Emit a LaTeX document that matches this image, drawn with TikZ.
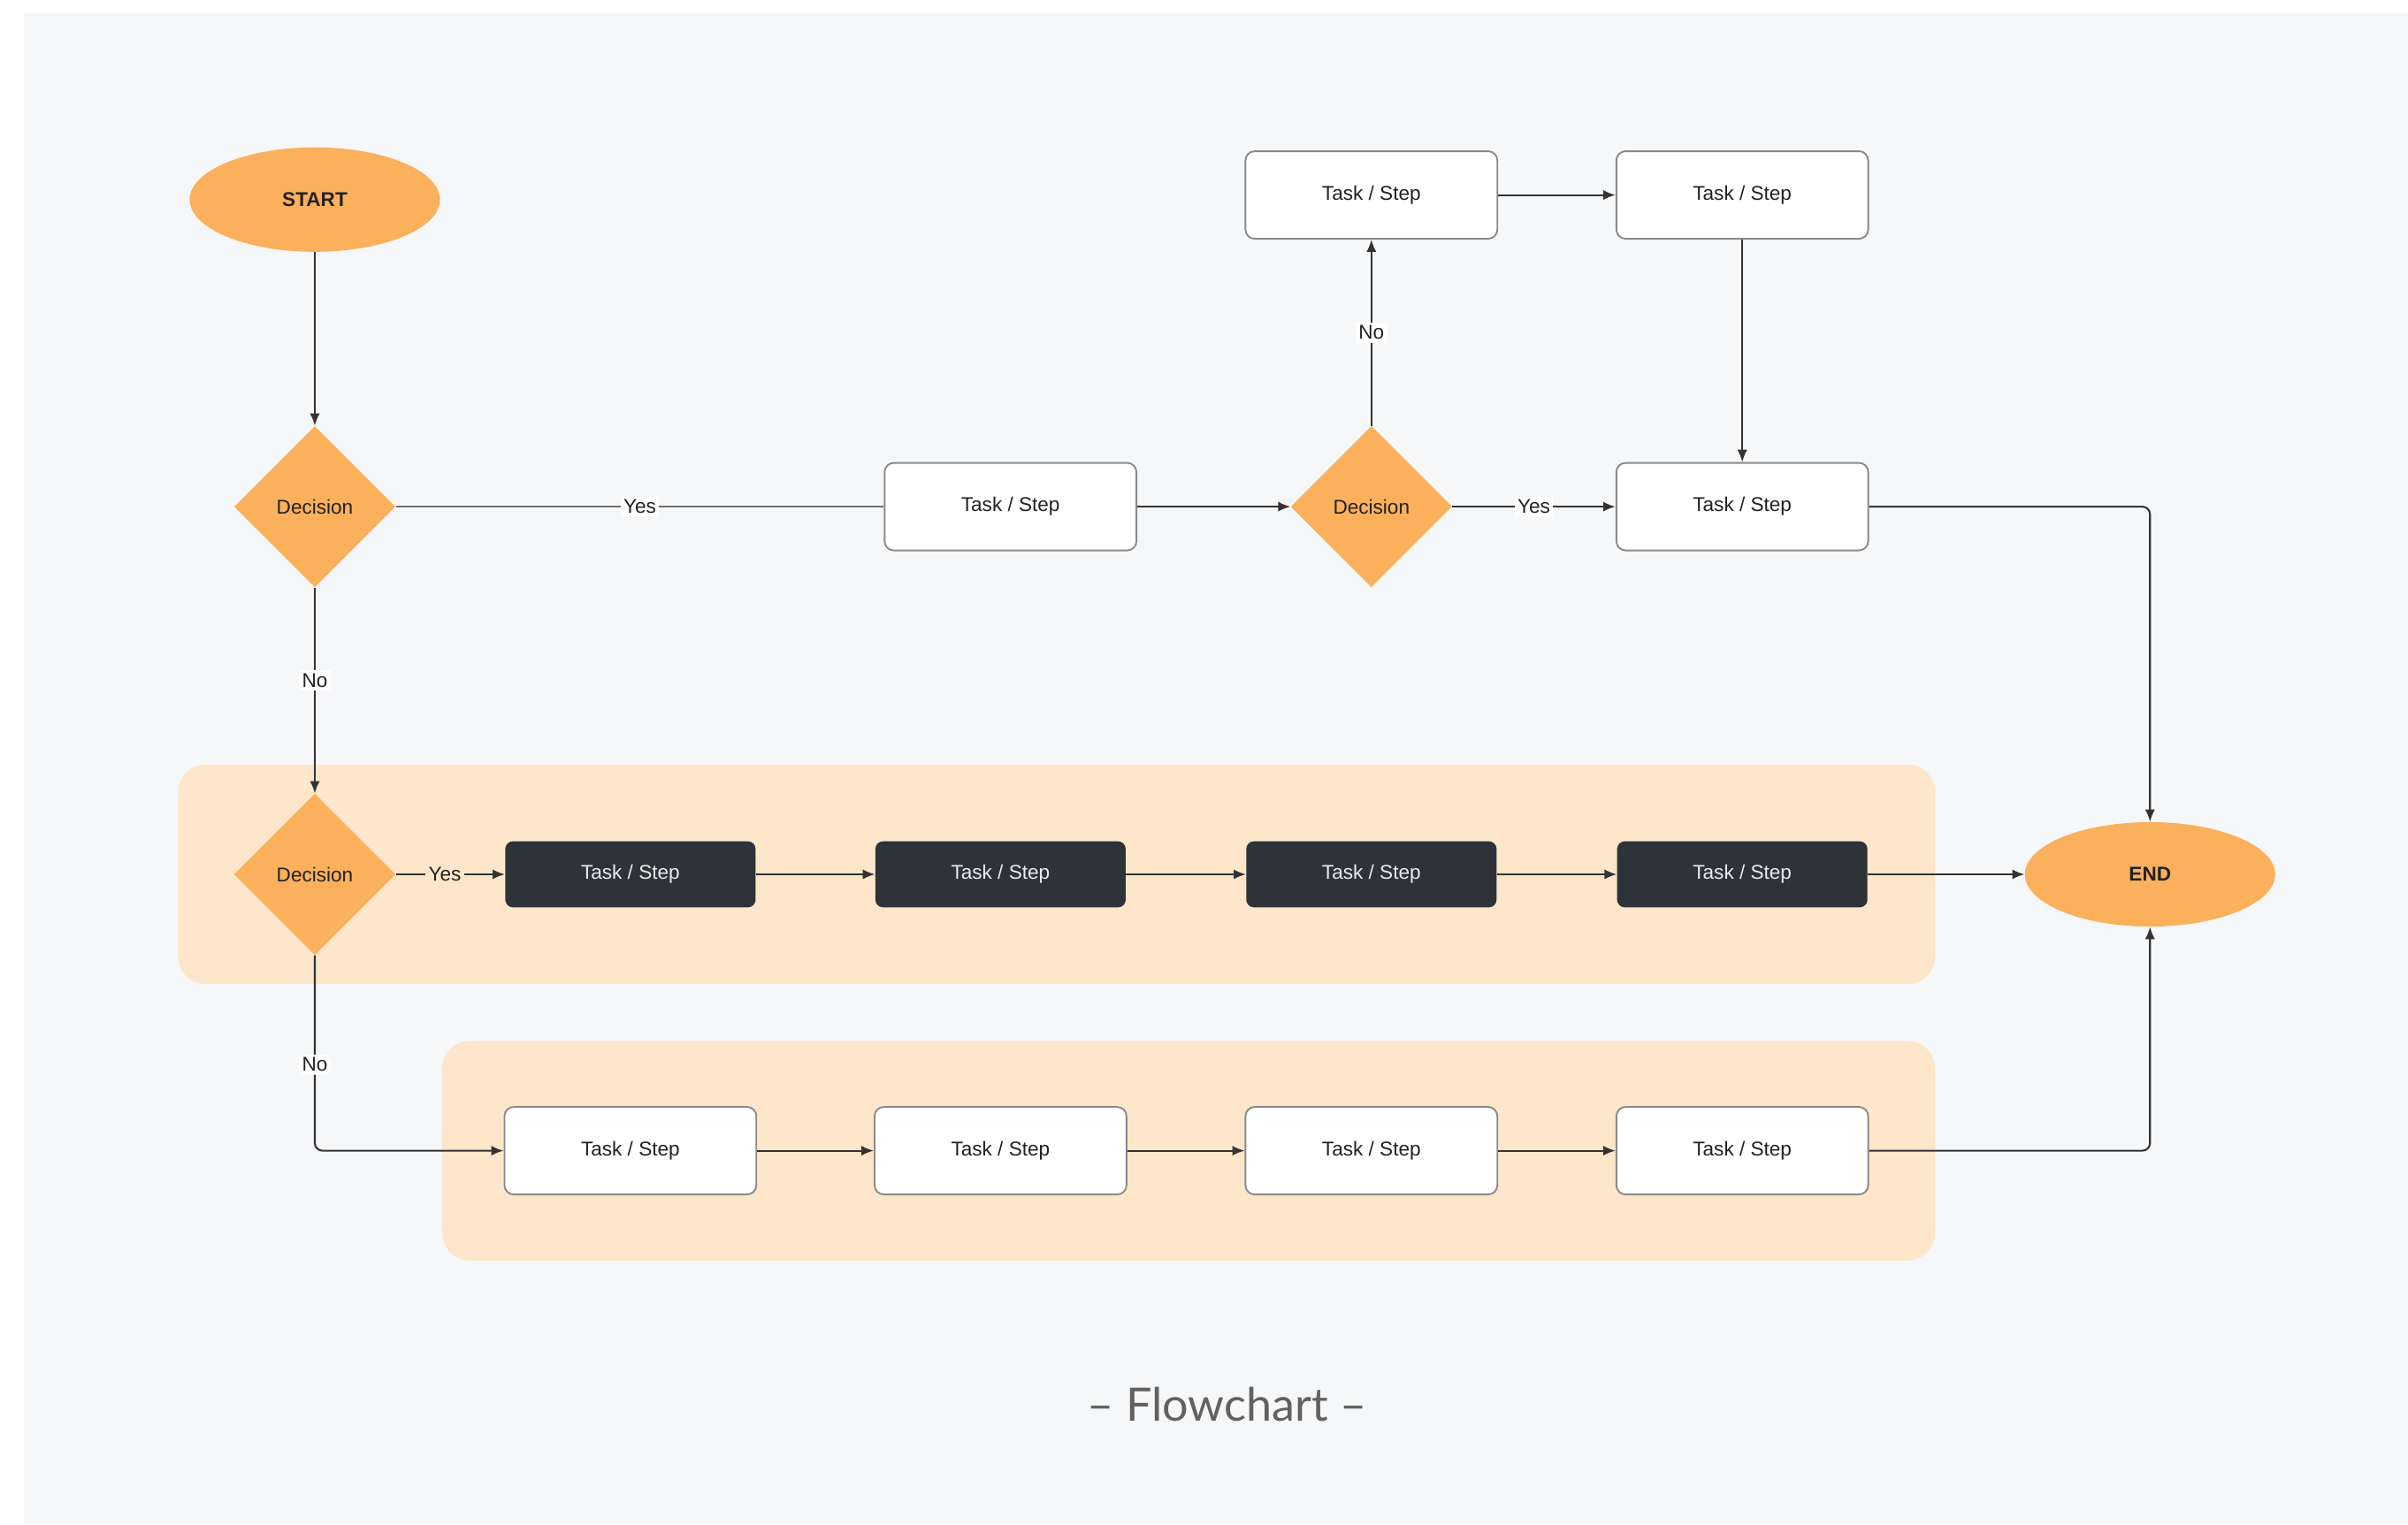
\documentclass[tikz,border=0pt]{standalone}
\usepackage{fontspec}
\setmainfont{Liberation Sans}
\newfontfamily\capfont{Lato}
\usetikzlibrary{shapes.geometric,arrows.meta}

\definecolor{panel}{HTML}{F6F7F9}
\definecolor{accent}{HTML}{FBB05B}
\definecolor{band}{HTML}{FDE6C9}
\definecolor{darkbox}{HTML}{2D3339}
\definecolor{edge}{HTML}{8A8A8A}
\definecolor{wire}{HTML}{333333}
\definecolor{ink}{HTML}{222222}

\tikzset{
  txt/.style={font=\fontsize{13}{15}\selectfont},
  terminal/.style={ellipse, fill=accent, draw=none, minimum width=163, minimum height=68,
    text=ink, font=\fontsize{13}{15}\selectfont\bfseries},
  decision/.style={diamond, fill=accent, draw=none, minimum width=105, minimum height=105,
    inner sep=0pt, text=ink, txt},
  taskbox/.style={rectangle, rounded corners=6, fill=white, draw=edge, line width=1.1,
    minimum width=164, minimum height=57, text=ink, txt},
  darktask/.style={rectangle, rounded corners=5, fill=darkbox, draw=none,
    minimum width=163, minimum height=43, text=white!92!black, txt},
  flow/.style={draw=wire, line width=1.2, -{Latex[length=8,width=6.5]}},
  plainflow/.style={draw=wire!70!white, line width=1.4},
  lbl/.style={fill=white, inner sep=2pt, text=ink, txt},
  bandbox/.style={fill=band, draw=none, rounded corners=18},
}

\begin{document}
\begin{tikzpicture}[x=1pt, y=-1pt]
  % page and panel
  \fill[white] (0,0) rectangle (1568,993);
  \fill[panel] (15.5,8.6) rectangle (1568,993);
  \useasboundingbox (0,0) rectangle (1568,993);

  % grouping bands
  \fill[bandbox] (116,498) rectangle (1260,641);
  \fill[bandbox] (288,678) rectangle (1260,821);

  % terminals
  \node[terminal] (start) at (205,130) {START};
  \node[terminal] (end) at (1400,569.5) {END};

  % decisions
  \node[decision] (d1) at (205,330) {Decision};
  \node[decision] (d2) at (893,330) {Decision};
  \node[decision] (d3) at (205,569.5) {Decision};

  % upper tasks
  \node[taskbox] (t1) at (658,330) {Task / Step};
  \node[taskbox] (up1) at (893,127) {Task / Step};
  \node[taskbox] (up2) at (1134.5,127) {Task / Step};
  \node[taskbox] (mid) at (1134.5,330) {Task / Step};

  % dark task row
  \node[darktask] (k1) at (410.5,569.5) {Task / Step};
  \node[darktask] (k2) at (651.5,569.5) {Task / Step};
  \node[darktask] (k3) at (893,569.5) {Task / Step};
  \node[darktask] (k4) at (1134.5,569.5) {Task / Step};

  % white task row
  \node[taskbox] (w1) at (410.5,749.5) {Task / Step};
  \node[taskbox] (w2) at (651.5,749.5) {Task / Step};
  \node[taskbox] (w3) at (893,749.5) {Task / Step};
  \node[taskbox] (w4) at (1134.5,749.5) {Task / Step};

  % connectors
  \draw[flow] (start.south) -- (d1.north);
  \draw[plainflow] (d1.east) -- node[lbl] {Yes} (t1.west);
  \draw[flow] (t1.east) -- (d2.west);
  \draw[flow] (d2.east) -- node[lbl] {Yes} (mid.west);
  \draw[flow] (d2.north) -- node[lbl] {No} (up1.south);
  \draw[flow] (up1.east) -- (up2.west);
  \draw[flow] (up2.south) -- (mid.north);
  \draw[flow, rounded corners=5] (mid.east) -| (end.north);

  \draw[flow] (d1.south) -- node[lbl, pos=0.45] {No} (d3.north);
  \draw[flow] (d3.east) -- node[lbl, fill=band, pos=0.45] {Yes} (k1.west);
  \draw[flow] (k1) -- (k2);
  \draw[flow] (k2) -- (k3);
  \draw[flow] (k3) -- (k4);
  \draw[flow] (k4.east) -- (end.west);

  \draw[flow, rounded corners=5] (d3.south) |- node[lbl, pos=0.28] {No} (w1.west);
  \draw[flow] (w1) -- (w2);
  \draw[flow] (w2) -- (w3);
  \draw[flow] (w3) -- (w4);
  \draw[flow, rounded corners=5] (w4.east) -| (end.south);

  % caption
  \node[font=\capfont\fontsize{30}{34}\selectfont, text=black!62] (caption) at (799,915) {– Flowchart –};
\end{tikzpicture}
\end{document}
